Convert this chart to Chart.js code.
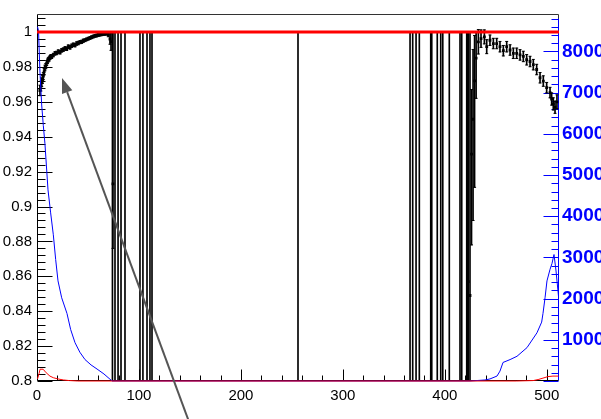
<!DOCTYPE html>
<html><head><meta charset="utf-8">
<script src="https://cdn.jsdelivr.net/npm/chart.js@4/dist/chart.umd.min.js"></script>
<style>html,body{margin:0;padding:0;background:#fff;overflow:hidden}</style>
</head><body>
<canvas id="c" width="601" height="419"></canvas>
<script>
// ---------------- data ----------------
// efficiency points (left axis)
const effX = [2.9, 3.8, 4.6, 5.4, 6.2, 7.0, 7.8, 8.6, 9.5, 10.3, 11.1, 12.0, 12.8, 13.6, 14.4, 16.0, 17.7, 19.3, 20.9, 22.6,
  24.2, 25.8, 27.5, 29.1, 30.7, 32.4, 34.0, 35.6, 37.3, 38.9, 40.5, 42.2, 43.8, 45.4, 47.1, 48.7, 50.3, 52.0, 53.6, 55.2,
  56.9, 58.5, 60.1, 61.8, 63.4, 65.0, 66.7, 68.3, 69.9, 71.6, 72.6,
  432.9, 435.5, 438.8, 441.1, 444.3, 447.6, 450.9, 454.1, 457.4, 460.7, 464.0, 467.2, 470.5, 473.8, 477.0, 480.3,
  483.6, 486.8, 490.1, 493.4, 496.6, 499.9, 503.2, 504.8, 506.4, 508.1, 510.0];
const effY = [0.9665, 0.9690, 0.9712, 0.9728, 0.9747, 0.9772, 0.9794, 0.9805, 0.9822, 0.9832, 0.9841, 0.9846, 0.9854, 0.9860, 0.9858, 0.9868, 0.9878, 0.9880, 0.9888, 0.9884,
  0.9895, 0.9899, 0.9906, 0.9904, 0.9916, 0.9912, 0.9921, 0.9927, 0.9925, 0.9934, 0.9937, 0.9942, 0.9944, 0.9950, 0.9953, 0.9958, 0.9962, 0.9966, 0.9970, 0.9974,
  0.9978, 0.9980, 0.9983, 0.9985, 0.9987, 0.9989, 0.9990, 0.9991, 0.9985, 0.9960, 0.9945,
  0.9944, 0.9962, 0.9972, 0.9916, 0.9953, 0.9934, 0.9934, 0.9916, 0.9893, 0.9916, 0.9897, 0.9878, 0.9878, 0.9869, 0.9860, 0.9841,
  0.9831, 0.9813, 0.9785, 0.9738, 0.9719, 0.9681, 0.9653, 0.9616, 0.9588, 0.9569, 0.9600];
const effErr = [0.0030, 0.0028, 0.0025, 0.0022, 0.0020, 0.0018, 0.0016, 0.0015, 0.0014, 0.0013, 0.0012, 0.0012, 0.0011, 0.0011, 0.0010, 0.0010, 0.0010, 0.0010, 0.0010, 0.0010,
  0.0010, 0.0010, 0.0010, 0.0010, 0.0010, 0.0010, 0.0010, 0.0010, 0.0010, 0.0010, 0.0010, 0.0009, 0.0009, 0.0009, 0.0008, 0.0008, 0.0008, 0.0008, 0.0008, 0.0008,
  0.0008, 0.0008, 0.0008, 0.0008, 0.0008, 0.0008, 0.0008, 0.0008, 0.0012, 0.0030, 0.0050,
  0.0070, 0.0050, 0.0040, 0.0040, 0.0030, 0.0030, 0.0030, 0.0030, 0.0030, 0.0030, 0.0030, 0.0030, 0.0030, 0.0030, 0.0030, 0.0030,
  0.0030, 0.0030, 0.0030, 0.0030, 0.0030, 0.0030, 0.0030, 0.0035, 0.0035, 0.0035, 0.0040];
// low-statistics bins with large asymmetric errors
const wideX  = [74.5, 423.0, 424.7, 426.2, 427.7, 429.2, 430.7];
const wideY  = [0.913, 0.857, 0.849, 0.930, 0.950, 0.972, 0.985];
const wideLo = [0.876, 0.780, 0.700, 0.878, 0.892, 0.911, 0.962];
const wideHi = [1.000, 1.000, 1.000, 0.967, 0.990, 0.998, 1.000];
// bins whose error bar spans the whole range
const fullX = [74.0, 76.5, 79.5, 82.4, 86.3, 101.0, 103.9, 107.9, 110.8, 112.8, 256.0,
  365.9, 368.5, 371.8, 375.0, 386.2, 387.2, 392.6, 396.0, 398.0, 404.4, 414.9, 416.6, 421.5, 422.3];
// blue histogram (right axis)
const blueX = [0.5, 1.5, 2.9, 4.6, 6.2, 7.8, 10.8, 13.3, 16.0, 18.3, 20.6, 24.2, 29.4, 33.0, 37.3, 42.0, 47.1, 53.0, 58.9, 65.7, 73.6,
  424.7, 439.4, 444.3, 451.2, 454.1, 457.1, 464.0, 470.8, 480.6, 490.4, 495.0, 496.3, 498.3, 500.2, 503.2, 505.1, 507.1, 509.1, 511.5];
const blueY = [86000, 85000, 75000, 67000, 62000, 57600, 46400, 41000, 35500, 29500, 24300, 20200, 16400, 12500, 9300, 7000, 5200, 3900, 2900, 1700, 0,
  0, 250, 500, 1200, 2400, 4500, 5200, 6000, 8100, 11700, 14300, 16400, 20200, 24300, 27100, 28500, 30700, 26700, 20600];
// red histogram (right axis)
const redX = [0.5, 2.0, 3.0, 6.0, 9.0, 12.7, 16.0, 20.5, 26.0, 32.0, 40.0, 470.0, 486.6, 491.5, 496.3, 501.2, 506.1, 511.5];
const redY = [500, 1800, 2860, 2860, 2000, 1190, 800, 500, 250, 100, 0, 0, 100, 350, 700, 1070, 1190, 1190];
// reference line at efficiency 1
const refX = [0, 512];
const refY = [1, 1];
// annotation arrow (data coordinates, left axis)
const arrowFrom = [149.5, 0.776];
const arrowTo = [24.5, 0.9736];
// axis ranges / ticks
const xRange = [0, 512], xMajor = 100, xMinor = 20;
const yRange = [0.8, 1.0101], yMajor = 0.02, yMinor = 0.004;
const y2Range = [0, 89000], y2Major = 10000, y2Minor = 2000;
const y2Labels = [10000, 20000, 30000, 40000, 50000, 60000, 70000, 80000];

// -------------- build --------------
const FONT = "'Liberation Sans', Arial, Helvetica, sans-serif";
const BLUE = '#0000ff', RED = '#ff0000';
const effPts = effX.map((x, i) => ({x, y: effY[i]}));
const effBars = effX.map((x, i) => ({x, y: [effY[i] - effErr[i], effY[i] + effErr[i]]}))
  .concat(wideX.map((x, i) => ({x, y: [wideLo[i], wideHi[i]]})))
  .concat(fullX.map(x => ({x, y: [0, 1]})));
const caps = [];
effX.forEach((x, i) => { caps.push({x, y: effY[i] - effErr[i]}); caps.push({x, y: effY[i] + effErr[i]}); });
wideX.forEach((x, i) => { caps.push({x, y: wideLo[i]}); caps.push({x, y: wideHi[i]}); });
const widePts = wideX.map((x, i) => ({x, y: wideY[i]}));

const axesPlugin = {
  id: 'rootAxes',
  beforeDatasetsDraw(chart) {
    const {ctx, chartArea: a, scales} = chart;
    const L = Math.round(a.left) + 0.5, R = Math.round(a.right) - 0.5, T = Math.round(a.top) + 0.5, B = Math.round(a.bottom) - 0.5;
    ctx.save();
    ctx.lineWidth = 1;
    ctx.strokeStyle = '#333';
    ctx.beginPath(); ctx.moveTo(L, T); ctx.lineTo(R, T); ctx.lineTo(R, B); ctx.stroke();
    ctx.strokeStyle = '#000';
    ctx.beginPath(); ctx.moveTo(L, T); ctx.lineTo(L, B); ctx.lineTo(R, B); ctx.stroke();
    const sx = scales.x;
    for (let v = xRange[0]; v <= xRange[1] + 1e-9; v += xMinor) {
      const p = Math.round(sx.getPixelForValue(v)) + 0.5;
      const len = (Math.round(v) % xMajor === 0) ? 11 : 5;
      ctx.beginPath(); ctx.moveTo(p, B); ctx.lineTo(p, B - len); ctx.stroke();
    }
    const sy = scales.y;
    let k = 0;
    for (let v = yRange[0]; v <= yRange[1] + 1e-9; v = yRange[0] + (++k) * yMinor) {
      const p = Math.round(sy.getPixelForValue(v)) + 0.5;
      const len = (k % 5 === 0) ? 15 : 8;
      ctx.beginPath(); ctx.moveTo(L, p); ctx.lineTo(L + len, p); ctx.stroke();
    }
    const s2 = scales.y2;
    ctx.strokeStyle = BLUE;
    ctx.beginPath(); ctx.moveTo(R, s2.getPixelForValue(88000)); ctx.lineTo(R, B); ctx.stroke();
    for (let v = y2Range[0]; v <= 88000; v += y2Minor) {
      const p = Math.round(s2.getPixelForValue(v)) + 0.5;
      const len = (v % y2Major === 0) ? 15 : 7;
      ctx.beginPath(); ctx.moveTo(R, p); ctx.lineTo(R - len, p); ctx.stroke();
    }
    ctx.restore();
  },
  afterDraw(chart) {
    const {ctx, scales: {x, y}} = chart;
    const x1 = x.getPixelForValue(arrowFrom[0]), y1 = y.getPixelForValue(arrowFrom[1]);
    const x2 = x.getPixelForValue(arrowTo[0]), y2 = y.getPixelForValue(arrowTo[1]);
    const ang = Math.atan2(y2 - y1, x2 - x1), hl = 15, hw = 5.5;
    ctx.save();
    ctx.strokeStyle = '#555'; ctx.fillStyle = '#555'; ctx.lineWidth = 2;
    const bx = x2 - hl * Math.cos(ang), by = y2 - hl * Math.sin(ang);
    ctx.beginPath(); ctx.moveTo(x1, y1); ctx.lineTo(bx, by); ctx.stroke();
    ctx.beginPath();
    ctx.moveTo(x2, y2);
    ctx.lineTo(bx + hw * Math.sin(ang), by - hw * Math.cos(ang));
    ctx.lineTo(bx - hw * Math.sin(ang), by + hw * Math.cos(ang));
    ctx.closePath(); ctx.fill();
    ctx.restore();
  }
};

new Chart(document.getElementById('c'), {
  type: 'scatter',
  data: {
    datasets: [
      {type: 'line', data: refX.map((x, i) => ({x, y: refY[i]})), yAxisID: 'y', borderColor: RED, borderWidth: 3,
        pointRadius: 0, order: 0, clip: 4},
      {type: 'line', data: redX.map((x, i) => ({x, y: redY[i]})), yAxisID: 'y2', borderColor: RED, borderWidth: 1,
        pointRadius: 0, order: 1, clip: 3},
      {type: 'line', data: blueX.map((x, i) => ({x, y: blueY[i]})), yAxisID: 'y2', borderColor: BLUE, borderWidth: 1,
        pointRadius: 0, order: 2, clip: 2},
      {type: 'scatter', data: effPts.concat(widePts), yAxisID: 'y', pointStyle: 'rect', pointRadius: 2,
        backgroundColor: '#000', borderColor: '#000', borderWidth: 0, order: 3},
      {type: 'scatter', data: caps, yAxisID: 'y', pointStyle: 'line', pointRadius: 1.5,
        borderColor: '#000', borderWidth: 1, order: 4},
      {type: 'bar', data: effBars, yAxisID: 'y', backgroundColor: '#000', borderWidth: 0, barThickness: 1,
        grouped: false, order: 5}
    ]
  },
  options: {
    responsive: false, animation: false, devicePixelRatio: 1,
    layout: {padding: {top: 7, left: 0, right: 0, bottom: 0}},
    plugins: {legend: {display: false}, tooltip: {enabled: false}},
    scales: {
      x: {type: 'linear', position: 'bottom', min: xRange[0], max: xRange[1], offset: false,
        grid: {display: false, drawTicks: false}, border: {display: false},
        ticks: {stepSize: xMajor, includeBounds: false, autoSkip: false, maxRotation: 0, padding: 6,
          color: '#000', font: {family: FONT, size: 15}},
        afterFit(s) { s.height = 38; }},
      y: {type: 'linear', position: 'left', min: yRange[0], max: yRange[1],
        grid: {display: false, drawTicks: false}, border: {display: false},
        ticks: {stepSize: yMajor, includeBounds: false, autoSkip: false, padding: 5, color: '#000',
          font: {family: FONT, size: 15}, callback: v => String(+(+v).toFixed(2))},
        afterFit(s) { s.width = 37; }},
      y2: {type: 'linear', position: 'right', min: y2Range[0], max: y2Range[1],
        grid: {display: false, drawTicks: false}, border: {display: false},
        afterBuildTicks(s) { s.ticks = y2Labels.map(v => ({value: v})); },
        ticks: {autoSkip: false, padding: 3, color: BLUE,
          font: {family: FONT, size: 19, weight: 'bold'}, callback: v => String(v)},
        afterFit(s) { s.width = 42; }}
    }
  },
  plugins: [axesPlugin]
});
</script>
</body></html>
